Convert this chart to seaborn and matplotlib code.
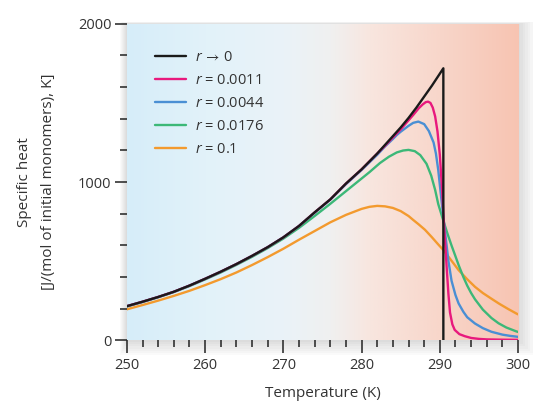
import numpy as np
import pandas as pd
import matplotlib
matplotlib.use('Agg')
import matplotlib.pyplot as plt
from matplotlib.colors import LinearSegmentedColormap
from matplotlib.patches import Rectangle
from matplotlib.ticker import MultipleLocator
import seaborn as sns

# data
t_black = [250, 252, 254, 256, 258, 260, 262, 264, 266, 268, 270, 272, 274, 276, 278, 280, 282, 283, 284,
           285, 286, 287, 288, 289, 290, 290.45, 290.45]
c_black = [215, 243, 273, 306, 345, 388, 433, 481, 533, 588, 650, 722, 808, 890, 990, 1080, 1180, 1235, 1290,
           1345, 1405, 1470, 1540, 1610, 1685, 1719, 0]

t_pink = [250, 252, 254, 256, 258, 260, 262, 264, 266, 268, 270, 272, 274, 276, 278, 280, 282, 283, 284,
          285, 286, 286.6, 287.3, 287.8, 288.2, 288.5, 288.8, 289.1, 289.4, 289.7, 290, 290.24, 290.5,
          290.7, 290.9, 291.1, 291.3, 291.6, 291.9, 292.5, 293.2, 294, 295, 296, 298, 300]
c_pink = [215, 243, 273, 306, 345, 388, 433, 481, 533, 588, 650, 722, 808, 890, 990, 1080, 1180, 1230, 1282,
          1333, 1390, 1424, 1466, 1490, 1505, 1508, 1500, 1470, 1415, 1320, 1171, 990, 760,
          600, 440, 290, 175, 100, 65, 38, 25, 14, 8, 5, 3, 2]

t_blue = [250, 252, 254, 256, 258, 260, 262, 264, 266, 268, 270, 272, 274, 276, 278, 280, 282, 283, 284,
          284.5, 285, 286, 286.6, 287.25, 288, 288.6, 289.2, 289.5, 289.8, 290.1, 290.4, 290.7, 291.1,
          291.5, 292, 292.4, 293, 293.5, 294.5, 295.5, 296.6, 298, 299, 300]
c_blue = [215, 243, 273, 306, 345, 388, 433, 481, 533, 588, 650, 722, 806, 888, 986, 1076, 1172, 1225, 1272,
          1297, 1318, 1355, 1374, 1382, 1366, 1322, 1250, 1180, 1075, 935, 800, 670, 500,
          375, 285, 232, 180, 145, 105, 76, 53, 35, 27, 21]

t_green = [250, 252, 254, 256, 258, 260, 262, 264, 266, 268, 270, 272, 274, 276, 278, 280, 281, 282.35,
           283.5, 284.5, 285.3, 286, 286.8, 287.5, 288.3, 288.9, 289.4, 289.8, 290.45, 291, 291.5, 292,
           292.4, 293, 293.5, 294, 294.5, 295.5, 296.6, 297.5, 298.5, 299.8, 300]
c_green = [213, 241, 271, 304, 342, 384, 428, 476, 527, 582, 642, 710, 785, 862, 942, 1022, 1062, 1120,
           1160, 1187, 1199, 1203, 1195, 1170, 1115, 1040, 950, 860, 755, 670, 598, 530,
           475, 400, 345, 298, 258, 193, 140, 107, 80, 55, 52]

t_orange = [250, 252, 254, 256, 258, 260, 262, 264, 266, 268, 270, 272, 274, 276, 278, 280, 281, 282, 283,
            284, 285, 286, 286.6, 287.3, 288.1, 289, 289.8, 290.45, 291.3, 292.4, 293.5, 294.5, 295.5,
            296.6, 297.6, 298.7, 299.8, 300]
c_orange = [195, 222, 250, 280, 312, 348, 386, 428, 475, 525, 578, 635, 690, 745, 792, 830, 843, 849, 846,
            836, 816, 785, 760, 732, 698, 650, 605, 570, 515, 443, 385, 337, 298,
            262, 230, 198, 168, 163]

labels = ['$r\\,\\rightarrow\\,$0', '$r$ = 0.0011', '$r$ = 0.0044', '$r$ = 0.0176', '$r$ = 0.1']
colors = ['#1a1a1a', '#e8197d', '#4a8fd4', '#3cb878', '#f39a2e']

sns.set_style('white')
plt.rcParams['font.family'] = ['Open Sans', 'DejaVu Sans']
plt.rcParams['mathtext.fontset'] = 'custom'
plt.rcParams['mathtext.it'] = 'Open Sans:italic'
plt.rcParams['mathtext.rm'] = 'Open Sans'
plt.rcParams['mathtext.fallback'] = 'stixsans'

fig = plt.figure(figsize=(5.33, 4.04), dpi=100)
ax = fig.add_axes([0.238, 0.158, 0.734, 0.783])

# soft shadow round the plot area, behind the axes
for i in range(7):
    pad = 0.003 + i * 0.004
    fig.add_artist(Rectangle((0.238 - pad * 0.5, 0.158 - pad * 1.4), 0.734 + pad * 1.7, 0.783 + pad * 1.6,
                             transform=fig.transFigure, facecolor='#000000', edgecolor='none',
                             alpha=0.02, zorder=-5))

bg = LinearSegmentedColormap.from_list('bg', [(0.0, '#d6edf9'), (0.2, '#e2f2fa'), (0.4, '#eaf3f8'),
                                              (0.52, '#f0f0f0'), (0.62, '#f8e6df'), (0.8, '#f8d6ca'),
                                              (1.0, '#f7c4b2')])
ax.imshow(np.linspace(0, 1, 256)[None, :], cmap=bg, aspect='auto', extent=[250, 300, 0, 2000], zorder=0)

series = [(t_black, c_black), (t_pink, c_pink), (t_blue, c_blue), (t_green, c_green), (t_orange, c_orange)]
# draw orange first so the sharp curves sit on top
for k in [4, 3, 2, 1, 0]:
    t, c = series[k]
    df = pd.DataFrame({'T': t, 'C': c})
    sns.lineplot(data=df, x='T', y='C', ax=ax, color=colors[k], lw=1.7, estimator=None, sort=False,
                 label=labels[k], zorder=3)

ax.set_xlim(250, 300)
ax.set_ylim(0, 2000)
for s in ax.spines.values():
    s.set_visible(False)

ax.set_xticks([250, 260, 270, 280, 290, 300])
ax.xaxis.set_minor_locator(MultipleLocator(2))
ax.set_yticks([0, 1000, 2000])
ax.yaxis.set_minor_locator(MultipleLocator(200))
ax.tick_params(axis='both', which='major', direction='out', length=9, width=1.1, color='#222222',
               labelsize=10.5, labelcolor='#333333', pad=2)
ax.tick_params(axis='both', which='minor', direction='out', length=5, width=1.1, color='#222222')
ax.tick_params(axis='x', which='major', pad=4)
ax.tick_params(bottom=True, left=True, which='both')

ax.set_xlabel('Temperature (K)', fontsize=11, color='#333333', labelpad=9)
ax.set_ylabel('Specific heat\n[J/(mol of initial monomers), K]', fontsize=11, color='#333333',
              labelpad=16, linespacing=1.85)

handles, labs = ax.get_legend_handles_labels()
idx = [labs.index(l) for l in labels]
leg = ax.legend([handles[i] for i in idx], [labs[i] for i in idx], loc='upper left',
                bbox_to_anchor=(0.058, 0.935), frameon=False, fontsize=10.5, handlelength=2.1,
                handletextpad=0.6, labelspacing=0.55, borderaxespad=0)
for txt in leg.get_texts():
    txt.set_color('#333333')

fig.savefig('out.png', dpi=100, facecolor='white')
